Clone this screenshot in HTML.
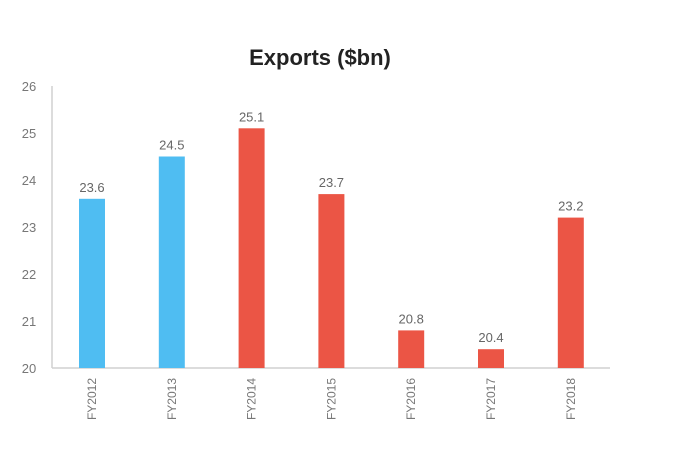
<!DOCTYPE html>
<html><head><meta charset="utf-8"><style>
body{margin:0;background:#fff;}
svg{display:block;font-family:"Liberation Sans",sans-serif;}
</style></head><body>
<svg id="chart" width="686" height="471">
<text x="320" y="65" text-anchor="middle" font-size="22" font-weight="bold" fill="#222" style="font-family:'Liberation Sans Narrow','Liberation Sans',sans-serif">Exports ($bn)</text>
<g id="axes"></g><g id="bars"></g>
</svg>
<script>
const categories=["FY2012","FY2013","FY2014","FY2015","FY2016","FY2017","FY2018"];
const values=[23.6,24.5,25.1,23.7,20.8,20.4,23.2];
const colors=["#4fbdf2","#4fbdf2","#eb5545","#eb5545","#eb5545","#eb5545","#eb5545"];
const yTicks=[20,21,22,23,24,25,26];
const NS="http://www.w3.org/2000/svg";
const y0=368,pxPer=47,x0=92,step=79.8,bw=26;
const yS=v=>y0-(v-20)*pxPer;
const xS=i=>x0+i*step;
function mk(t,a,p){const e=document.createElementNS(NS,t);for(const k in a)e.setAttribute(k,a[k]);p.appendChild(e);return e;}
const ax=document.getElementById('axes'),bg=document.getElementById('bars');
let l=mk('line',{x1:52,y1:yS(26),x2:52,y2:y0,stroke:'#d0d0d0','stroke-width':1.5},ax);


l=mk('line',{x1:52,y1:y0,x2:610,y2:y0,stroke:'#d0d0d0','stroke-width':1.5},ax);


yTicks.forEach(v=>{const t=mk('text',{x:29,y:yS(v)+5,'text-anchor':'middle','font-size':13,fill:'#777'},ax);t.textContent=v;

});
categories.forEach((c,i)=>{
const cx=xS(i);
const r=mk('rect',{x:cx-bw/2,y:yS(values[i]),width:bw,height:y0-yS(values[i]),fill:colors[i]},bg);


const v=mk('text',{x:cx,y:yS(values[i])-7,'text-anchor':'middle','font-size':13,fill:'#666'},bg);v.textContent=values[i].toFixed(1);


const t=mk('text',{x:0,y:0,'text-anchor':'end','font-size':12,fill:'#777',transform:`translate(${cx+4},378) rotate(-90)`},bg);t.textContent=c;


});
</script>
</body></html>
